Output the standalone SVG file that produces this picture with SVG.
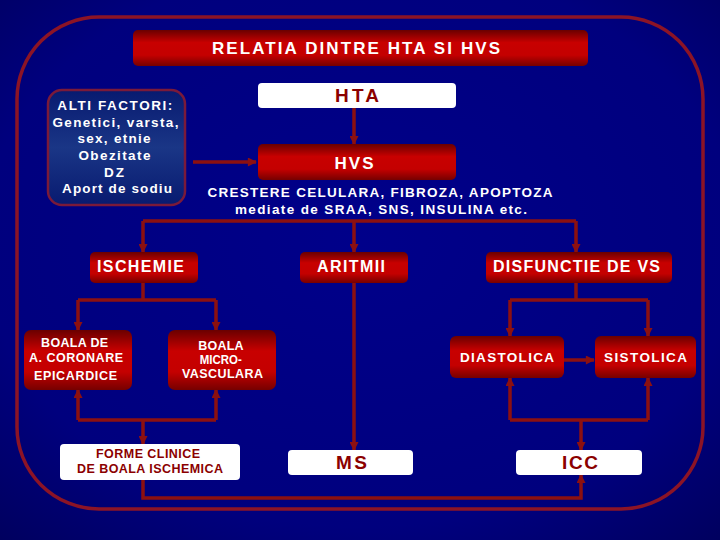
<svg xmlns="http://www.w3.org/2000/svg" width="720" height="540" viewBox="0 0 720 540">
<defs>
<radialGradient id="bg" cx="50%" cy="45%" r="75%">
<stop offset="0" stop-color="#00008a"/>
<stop offset="0.7" stop-color="#00007e"/>
<stop offset="1" stop-color="#00005e"/>
</radialGradient>
<linearGradient id="red" x1="0" y1="0" x2="0" y2="1">
<stop offset="0" stop-color="#6a0000"/>
<stop offset="0.35" stop-color="#c80000"/>
<stop offset="0.7" stop-color="#c40000"/>
<stop offset="1" stop-color="#760000"/>
</linearGradient>
<linearGradient id="blue" x1="0" y1="0" x2="0" y2="1">
<stop offset="0" stop-color="#081a70"/>
<stop offset="0.5" stop-color="#1a3686"/>
<stop offset="1" stop-color="#081a70"/>
</linearGradient>
<marker id="ar" viewBox="0 0 10 10" refX="9" refY="5" markerUnits="userSpaceOnUse" markerWidth="10" markerHeight="9" orient="auto">
<path d="M0,0 L10,5 L0,10 z" fill="#8c1010"/>
</marker>
<style>
.rb{fill:url(#red);}
.wb{fill:#ffffff;}
.wt{fill:#ffffff;font-family:"Liberation Sans",Arial,sans-serif;font-weight:bold;text-anchor:middle;}
.rt{fill:#8b0000;font-family:"Liberation Sans",Arial,sans-serif;font-weight:bold;text-anchor:middle;}
.c{stroke:#8c1010;stroke-width:3.5;fill:none;}
.ca{stroke:#8c1010;stroke-width:3.5;fill:none;marker-end:url(#ar);}
</style>
</defs>
<rect width="720" height="540" fill="url(#bg)"/>
<rect x="17" y="17" width="686" height="492" rx="82" ry="82" fill="none" stroke="#8c1426" stroke-width="3.5"/>

<g id="connectors">
<line class="ca" x1="354" y1="108" x2="354" y2="144"/>
<line class="ca" x1="193" y1="162" x2="256" y2="162"/>
<path class="c" d="M143,221 H576"/>
<line class="ca" x1="143" y1="221" x2="143" y2="252"/>
<line class="ca" x1="354" y1="221" x2="354" y2="252"/>
<line class="ca" x1="576" y1="221" x2="576" y2="252"/>
<path class="c" d="M143,283 V300 M78,300 H216"/>
<line class="ca" x1="78" y1="300" x2="78" y2="330"/>
<line class="ca" x1="216" y1="300" x2="216" y2="330"/>
<path class="c" d="M78,420 H216"/>
<line class="ca" x1="78" y1="420" x2="78" y2="390"/>
<line class="ca" x1="216" y1="420" x2="216" y2="390"/>
<line class="ca" x1="143" y1="420" x2="143" y2="444"/>
<path class="ca" d="M143,480 V498 H581 V475"/>
<line class="ca" x1="354" y1="283" x2="354" y2="450"/>
<path class="c" d="M576,283 V300 M510,300 H648"/>
<line class="ca" x1="510" y1="300" x2="510" y2="336"/>
<line class="ca" x1="648" y1="300" x2="648" y2="336"/>
<line class="ca" x1="564" y1="360" x2="594" y2="360"/>
<path class="c" d="M510,420 H648"/>
<line class="ca" x1="510" y1="420" x2="510" y2="378"/>
<line class="ca" x1="648" y1="420" x2="648" y2="378"/>
<line class="ca" x1="581" y1="420" x2="581" y2="450"/>
</g>

<g id="title">
<rect class="rb" x="133" y="30" width="455" height="36" rx="5"/>
<text class="wt" x="356" y="54" font-size="17" textLength="288" lengthAdjust="spacing">RELATIA DINTRE HTA SI HVS</text>
</g>

<g id="hta">
<rect class="wb" x="258" y="83" width="198" height="25" rx="4"/>
<text class="rt" x="357" y="102" font-size="19" textLength="44" lengthAdjust="spacing">HTA</text>
</g>

<g id="hvs">
<rect class="rb" x="258" y="144" width="198" height="36" rx="5"/>
<text class="wt" x="354" y="169" font-size="17" textLength="39" lengthAdjust="spacing">HVS</text>
</g>

<g id="hvs-desc">
<text class="wt" x="380" y="197" font-size="13.5" textLength="345" lengthAdjust="spacing">CRESTERE CELULARA, FIBROZA, APOPTOZA</text>
<text class="wt" x="381" y="214" font-size="13.5" textLength="292" lengthAdjust="spacing">mediate de SRAA, SNS, INSULINA etc.</text>
</g>

<g id="factori">
<rect x="48" y="90" width="137" height="115" rx="14" fill="url(#blue)" stroke="#7a1a3a" stroke-width="2.5"/>
<text class="wt" font-size="13.5">
<tspan x="117.5" y="110" textLength="115" lengthAdjust="spacing">ALTI FACTORI:</tspan>
<tspan x="118" y="127" textLength="126" lengthAdjust="spacing">Genetici, varsta,</tspan>
<tspan x="116.5" y="143" textLength="73" lengthAdjust="spacing">sex, etnie</tspan>
<tspan x="117" y="160" textLength="72" lengthAdjust="spacing">Obezitate</tspan>
<tspan x="117" y="177" textLength="20" lengthAdjust="spacing">DZ</tspan>
<tspan x="117" y="193" textLength="110" lengthAdjust="spacing">Aport de sodiu</tspan>
</text>
</g>

<g id="ischemie">
<rect class="rb" x="90" y="252" width="108" height="31" rx="5"/>
<text class="wt" x="140.5" y="272" font-size="16" textLength="87" lengthAdjust="spacing">ISCHEMIE</text>
</g>

<g id="aritmii">
<rect class="rb" x="300" y="252" width="108" height="31" rx="5"/>
<text class="wt" x="351" y="272" font-size="16" textLength="68" lengthAdjust="spacing">ARITMII</text>
</g>

<g id="disfunctie">
<rect class="rb" x="486" y="252" width="186" height="31" rx="5"/>
<text class="wt" x="576.5" y="272" font-size="16" textLength="167" lengthAdjust="spacing">DISFUNCTIE DE VS</text>
</g>

<g id="coronare">
<rect class="rb" x="24" y="330" width="108" height="60" rx="7"/>
<text class="wt" font-size="12.5">
<tspan x="76.5" y="347" textLength="67" lengthAdjust="spacing">BOALA DE</tspan>
<tspan x="78" y="362" textLength="94" lengthAdjust="spacing">A. CORONARE</tspan>
<tspan x="75.5" y="380" textLength="83" lengthAdjust="spacing">EPICARDICE</tspan>
</text>
</g>

<g id="microvasculara">
<rect class="rb" x="168" y="330" width="108" height="60" rx="7"/>
<text class="wt" font-size="12.5">
<tspan x="222.5" y="350" textLength="45" lengthAdjust="spacing">BOALA</tspan>
<tspan x="222.5" y="364" textLength="42" lengthAdjust="spacingAndGlyphs">MICRO-</tspan>
<tspan x="222.5" y="378" textLength="81" lengthAdjust="spacing">VASCULARA</tspan>
</text>
</g>

<g id="forme-clinice">
<rect class="wb" x="60" y="444" width="180" height="36" rx="4"/>
<text class="rt" font-size="12.5">
<tspan x="150" y="458" textLength="104" lengthAdjust="spacing">FORME CLINICE</tspan>
<tspan x="150" y="473" textLength="146" lengthAdjust="spacing">DE BOALA ISCHEMICA</tspan>
</text>
</g>

<g id="ms">
<rect class="wb" x="288" y="450" width="125" height="25" rx="4"/>
<text class="rt" x="351.5" y="469" font-size="19" textLength="31" lengthAdjust="spacing">MS</text>
</g>

<g id="diastolica">
<rect class="rb" x="450" y="336" width="114" height="42" rx="6"/>
<text class="wt" x="507" y="362" font-size="13.5" textLength="94" lengthAdjust="spacing">DIASTOLICA</text>
</g>

<g id="sistolica">
<rect class="rb" x="595" y="336" width="101" height="42" rx="6"/>
<text class="wt" x="645.5" y="362" font-size="13.5" textLength="83" lengthAdjust="spacing">SISTOLICA</text>
</g>

<g id="icc">
<rect class="wb" x="516" y="450" width="126" height="25" rx="4"/>
<text class="rt" x="580" y="469" font-size="19" textLength="36" lengthAdjust="spacing">ICC</text>
</g>
</svg>
